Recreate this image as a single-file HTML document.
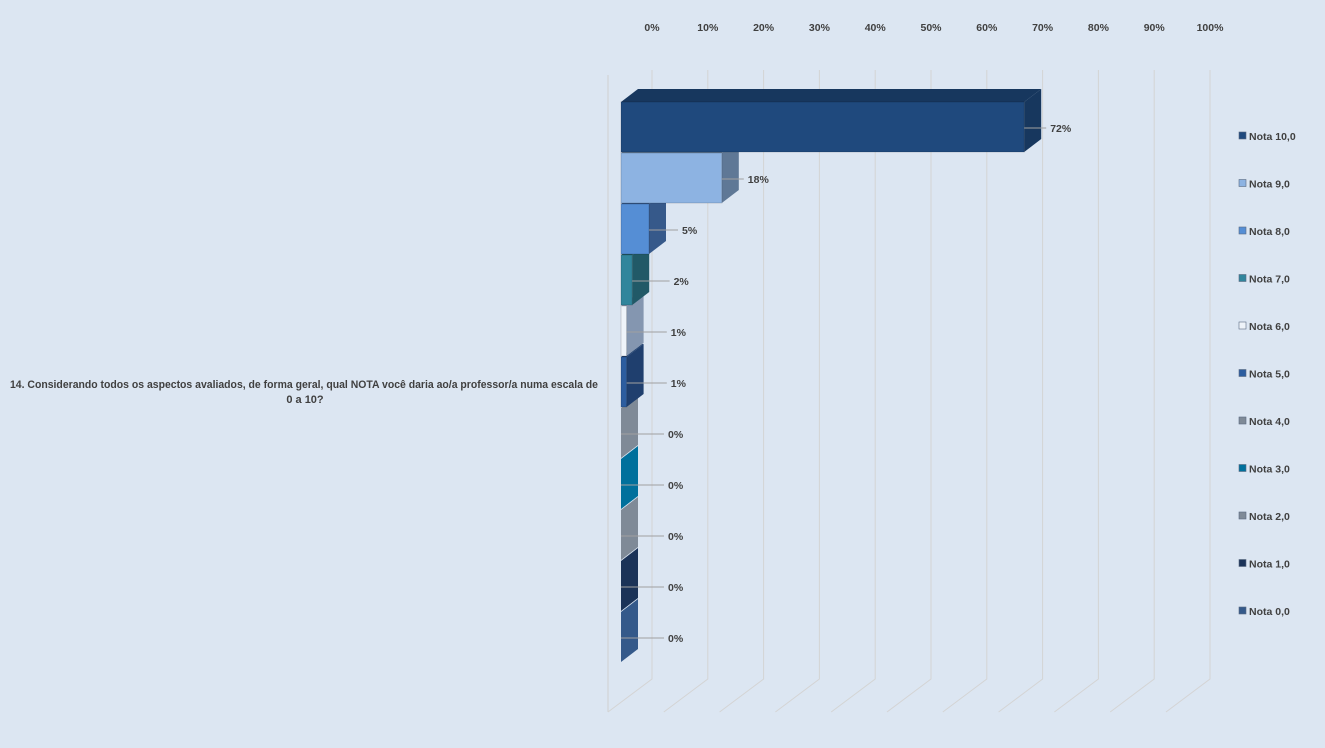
<!DOCTYPE html>
<html><head><meta charset="utf-8"><style>
body{margin:0;background:#dce6f2;}
svg{display:block;font-family:"Liberation Sans",sans-serif;}
</style></head><body>
<svg id="chart" width="1325" height="748" viewBox="0 0 1325 748">
<rect width="1325" height="748" fill="#dce6f2"/>
<g id="grid"></g>
<g id="ticks"></g>
<g id="bars"></g>
<g id="labels"></g>
<g id="legend"></g>
<text x="10" y="388" textLength="588" lengthAdjust="spacingAndGlyphs" font-size="11" font-weight="bold" fill="#404040">14. Considerando todos os aspectos avaliados, de forma geral, qual NOTA você daria ao/a professor/a numa escala de</text>
<text x="305" y="403" text-anchor="middle" font-size="11" font-weight="bold" fill="#404040">0 a 10?</text>
</svg>
<script>
const categories=["Nota 10,0","Nota 9,0","Nota 8,0","Nota 7,0","Nota 6,0","Nota 5,0","Nota 4,0","Nota 3,0","Nota 2,0","Nota 1,0","Nota 0,0"];
const values=[72,18,5,2,1,1,0,0,0,0,0];
const valueLabels=["72%","18%","5%","2%","1%","1%","0%","0%","0%","0%","0%"];
const tickValues=[0,10,20,30,40,50,60,70,80,90,100];
const tickLabels=["0%","10%","20%","30%","40%","50%","60%","70%","80%","90%","100%"];
const front=["#1f497d","#8db3e2","#558ed5","#31859c","#eef3f9","#2c5d9f","#7f8a97","#00709c","#7f8a97","#1b3358","#34598a"];
const side=["#17375e","#5f7896","#36598a","#215967","#8496b0","#1f3f6e","#7f8a97","#00709c","#7f8a97","#1b3358","#34598a"];
const NS="http://www.w3.org/2000/svg";
function mk(t,a,p){const e=document.createElementNS(NS,t);for(const k in a)e.setAttribute(k,a[k]);p.appendChild(e);return e;}
const xFront=v=>621+v*5.6;
const xBack=v=>652+v*5.58;
const yTop=i=>102+i*51;
const BH=50,DX=17,DY=13;
const grid=document.getElementById('grid');
const gl=mk('polyline',{points:"608,75 608,712",fill:"none",stroke:"#d0d0d0"},grid);


tickValues.forEach((t,i)=>{
  const x=xBack(t);
  const l=mk('polyline',{points:`${x},70 ${x},679 ${x-44},712`,fill:"none",stroke:"#d4d4d4"},grid);
  
  
  const tx=mk('text',{x:x,y:31,"text-anchor":"middle","font-size":"10.5","font-weight":"bold",fill:"#404040"},document.getElementById('ticks'));
  tx.textContent=tickLabels[i];
  
  
});
const bars=document.getElementById('bars'),labels=document.getElementById('labels');
for(let i=values.length-1;i>=0;i--){
  const x0=621,x1=xFront(values[i]),yt=yTop(i),yb=yt+BH;
  const g=mk('g',{},bars);
  
  
  mk('polygon',{points:`${x0},${yt} ${x0+DX},${yt-DY} ${x1+DX},${yt-DY} ${x1},${yt}`,fill:side[i]},g);
  mk('polygon',{points:`${x1},${yt} ${x1+DX},${yt-DY} ${x1+DX},${yb-DY} ${x1},${yb}`,fill:side[i]},g);
  if(x1>x0) mk('rect',{x:x0,y:yt,width:x1-x0,height:BH,fill:front[i],stroke:"rgba(0,0,0,0.15)"},g);
  const ym=yt+BH/2+1;
  const tx=x1+26+Math.max(0,21-(x1-621)*0.5);
  const ln=mk('line',{x1:x1,y1:ym,x2:tx-4,y2:ym,stroke:"#a0a0a0"},labels);
  
  
  const t=mk('text',{x:tx,y:ym+4,"font-size":"10.5","font-weight":"bold",fill:"#404040"},labels);
  t.textContent=valueLabels[i];
  
  
}
const leg=document.getElementById('legend');
categories.forEach((c,i)=>{
  const y=136+i*47.5;
  const g=mk('g',{},leg);
  
  
  mk('rect',{x:1239,y:y-4,width:7,height:7,fill:front[i],stroke:"#5a6a80","stroke-width":"0.6"},g);
  const t=mk('text',{x:1249,y:y+4,"font-size":"10.5","font-weight":"bold",fill:"#404040"},g);
  t.textContent=c;
});
</script>
</body></html>
